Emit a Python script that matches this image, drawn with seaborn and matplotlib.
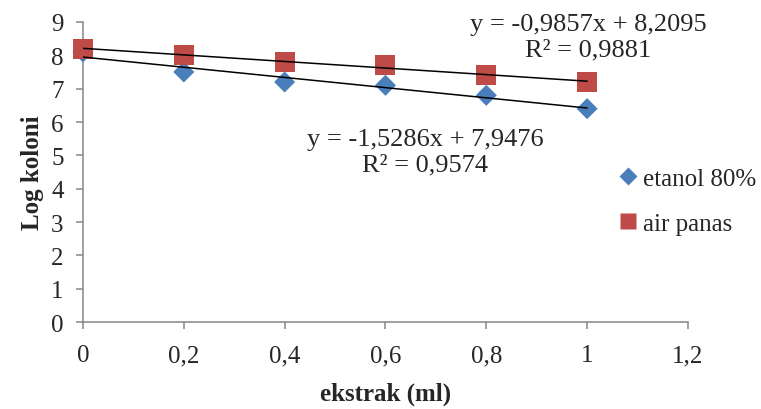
import numpy as np
import pandas as pd
import seaborn as sns
import matplotlib.pyplot as plt

# Data
ekstrak = [0, 0.2, 0.4, 0.6, 0.8, 1.0]
etanol = [8.1, 7.5, 7.2, 7.1, 6.8, 6.4]
air_panas = [8.2, 8.0, 7.8, 7.7, 7.4, 7.2]
series_names = ['etanol 80%', 'air panas']
eq_etanol = "y = -1,5286x + 7,9476\nR² = 0,9574"
eq_air = "y = -0,9857x + 8,2095\nR² = 0,9881"
x_ticks = [0, 0.2, 0.4, 0.6, 0.8, 1.0, 1.2]
x_labels = ['0', '0,2', '0,4', '0,6', '0,8', '1', '1,2']

df = pd.DataFrame({
    'ekstrak': ekstrak * 2,
    'log': etanol + air_panas,
    'seri': [series_names[0]] * 6 + [series_names[1]] * 6,
})

sns.set_style('white')
plt.rcParams['font.family'] = ['Liberation Serif', 'DejaVu Serif']

fig = plt.figure(figsize=(7.61, 4.10), dpi=100)
ax = fig.add_axes([0.109, 0.212, 0.795, 0.732])

sns.scatterplot(data=df, x='ekstrak', y='log', hue='seri', style='seri',
                size='seri', sizes={'etanol 80%': 115, 'air panas': 207},
                palette={'etanol 80%': '#4a7ebb', 'air panas': '#be4b48'},
                markers={'etanol 80%': 'D', 'air panas': 's'},
                ax=ax, legend=True, edgecolor='none', zorder=3)
ax.collections[0].set_clip_on(False)

# linear trendlines
for ys in (etanol, air_panas):
    k, b = np.polyfit(ekstrak, ys, 1)
    xs = np.array([ekstrak[0], ekstrak[-1]])
    ax.plot(xs, k * xs + b, color='black', lw=1.1, zorder=4)

ax.text(0.679, 5.1, eq_etanol, ha='center', va='center', fontsize=19, linespacing=1.2)
ax.text(1.002, 8.57, eq_air, ha='center', va='center', fontsize=19, linespacing=1.2)

ax.set_xlim(0, 1.2)
ax.set_ylim(0, 9)
ax.set_xticks(x_ticks)
ax.set_xticklabels(x_labels)
ax.set_yticks(range(0, 10))
ax.tick_params(axis='both', labelsize=18, direction='out', length=5, width=1.1,
               color='#868686', bottom=True, left=True)
ax.tick_params(axis='x', pad=11)
ax.tick_params(axis='y', pad=9)
sns.despine(ax=ax)
for side in ('left', 'bottom'):
    ax.spines[side].set_color('#868686')
    ax.spines[side].set_linewidth(1.1)

ax.set_xlabel('ekstrak (ml)', fontsize=18, fontweight='bold', labelpad=11)
ax.set_ylabel('Log koloni', fontsize=18, fontweight='bold', labelpad=5)

handles, labels = ax.get_legend_handles_labels()
ax.legend_.remove()
leg = fig.legend(handles, labels, loc='upper left', bbox_to_anchor=(0.809, 0.589),
                 frameon=False, fontsize=18, handletextpad=0.1, borderpad=0,
                 borderaxespad=0, labelspacing=0.9, markerscale=0.83,
                 handlelength=1.0)

fig.savefig('out.png', dpi=100)
